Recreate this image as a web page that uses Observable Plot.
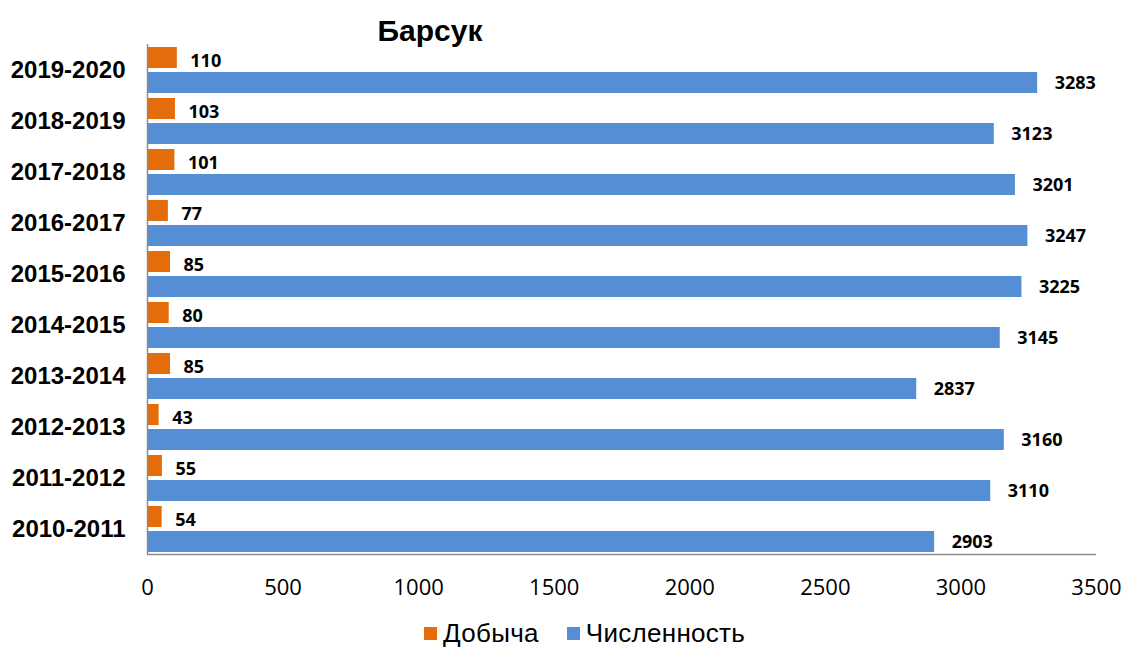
<!DOCTYPE html>
<html><head><meta charset="utf-8">
<script src="https://cdn.jsdelivr.net/npm/d3@7"></script>
<script src="https://cdn.jsdelivr.net/npm/@observablehq/plot@0.6"></script>
<style>
body{margin:0;background:#fff;}
#wrap{position:relative;width:1126px;height:648px;overflow:hidden;}
#title{position:absolute;left:0;top:16px;width:860px;text-align:center;font:bold 30px "Liberation Sans",Arial,sans-serif;line-height:30px;color:#000;}
#legend{position:absolute;left:424px;top:618px;height:30px;display:flex;align-items:center;font:26px "Liberation Sans",Arial,sans-serif;letter-spacing:0.3px;line-height:30px;color:#000;}
#legend .sw{width:13px;height:13px;display:inline-block;margin-right:6px;}
#legend .item{display:flex;align-items:center;margin-right:28px;}
</style>
</head><body>
<div id="wrap">
<div id="chart"></div>
<div id="title"></div>
<div id="legend"></div>
</div>
<script>
const periods = ["2010-2011","2011-2012","2012-2013","2013-2014","2014-2015","2015-2016","2016-2017","2017-2018","2018-2019","2019-2020"];
const dobycha = [54,55,43,85,80,85,77,101,103,110];
const chislennost = [2903,3110,3160,2837,3145,3225,3247,3201,3123,3283];
const series = ["Добыча","Численность"];
const colors = ["#E46C0A","#558ED5"];
const xTicks = [0,500,1000,1500,2000,2500,3000,3500];
const titleText = "Барсук";

const table = [];
periods.forEach((p,i)=>{
  table.push({period:p, series:series[0], value:dobycha[i]});
  table.push({period:p, series:series[1], value:chislennost[i]});
});

const H = 612, mT = 42, mB = 56;
const facetH = (H - mT - mB) / periods.length;
const pIn = 0.18, pOut = 0.094;
const step = facetH / (2 - pIn + 2*pOut);
const bw = step * (1 - pIn);

const labelOpts = {x: "value", y: "series", fy: "period", text: d => String(d.value),
  dx: 16, textAnchor: "start", fontWeight: "bold", fontSize: 18, fill: "#000",
  fontFamily: "'Open Sans', sans-serif"};

const chart = Plot.plot({
  width: 1126, height: H,
  marginTop: mT, marginBottom: mB, marginLeft: 147, marginRight: 30,
  style: {fontFamily: "'Open Sans', sans-serif", background: "#fff", overflow: "visible"},
  x: {domain: [0, 3500], axis: null},
  y: {domain: series, paddingInner: pIn, paddingOuter: pOut, axis: null},
  fy: {domain: periods.slice().reverse(), padding: 0, axis: null},
  color: {domain: series, range: colors},
  marks: [
    Plot.barX(table, {x: "value", y: "series", fy: "period", fill: "series"}),
    Plot.text(table.filter(d => d.series === series[0]), {...labelOpts, dy: 3, dx: 13}),
    Plot.text(table.filter(d => d.series === series[1]), {...labelOpts, dy: 0, dx: 17}),
    Plot.ruleX([0], {stroke: "#8c8c8c", strokeWidth: 1.5}),
    Plot.ruleY([series[1]], {y: d => d, fy: [periods[0]], dy: bw/2 + pOut*step - 0.5, stroke: "#8c8c8c", strokeWidth: 1.5}),
    Plot.axisX({ticks: xTicks, tickFormat: d => String(d), tickSize: 0, tickPadding: 25, fontSize: 22, label: null, fill: "#000",
      fontFamily: "'Open Sans', sans-serif"}),
    Plot.axisFy({anchor: "left", tickSize: 0, tickPadding: 22, fontSize: 24, fontWeight: "bold", label: null,
      fill: "#000", fontFamily: "'Liberation Sans', Arial, sans-serif"})
  ]
});
document.getElementById("chart").appendChild(chart);
document.getElementById("title").textContent = titleText;

const lg = document.getElementById("legend");
series.forEach((s,i)=>{
  const it = document.createElement("div"); it.className = "item";
  const sw = document.createElement("span"); sw.className = "sw"; sw.style.background = colors[i];
  const t = document.createElement("span"); t.textContent = s;
  it.appendChild(sw); it.appendChild(t); lg.appendChild(it);
});
</script>
</body></html>
